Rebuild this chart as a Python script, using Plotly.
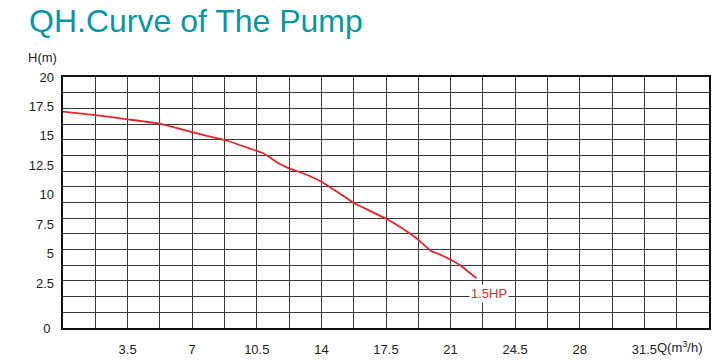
import plotly.graph_objects as go

# ---- data ----
flow_q = [0, 1.75, 3.5, 5.25, 7, 7.75, 8.75, 10.1, 10.85, 11.75, 12.25, 13, 14,
          14.85, 15.75, 16.6, 17.45, 18.25, 19.15, 19.95, 20.6, 21.5, 22.4]
head_h = [17.24, 16.97, 16.63, 16.28, 15.6, 15.32, 14.98, 14.32, 13.92, 13.07, 12.72,
          12.33, 11.66, 10.86, 9.98, 9.35, 8.74, 8.07, 7.15, 6.14, 5.74, 5.02, 3.96]
series_name = "1.5HP"

x_tick_vals = [3.5, 7, 10.5, 14, 17.5, 21, 24.5, 28, 31.5]
x_tick_text = ["3.5", "7", "10.5", "14", "17.5", "21", "24.5", "28", "31.5"]
y_tick_vals = [2.5, 5, 7.5, 10, 12.5, 15, 17.5, 20]
y_tick_text = ["2.5", "5", "7.5", "10", "12.5", "15", "17.5", "20"]

FONT = "Liberation Sans, Arial, sans-serif"
GRID = "#383838"
RED = "#e8232b"

fig = go.Figure()
fig.add_trace(go.Scatter(x=flow_q, y=head_h, mode="lines", name=series_name,
                         line=dict(color=RED, width=1.8, shape="spline", smoothing=0.4),
                         hoverinfo="skip"))
fig.add_trace(go.Scatter(x=[], y=[], yaxis="y2", showlegend=False))

fig.add_annotation(x=flow_q[-1], y=head_h[-1], text=series_name, showarrow=False,
                   xanchor="center", yanchor="middle", xshift=13, yshift=-15,
                   bgcolor="white", font=dict(color=RED, size=13, family=FONT))
fig.add_annotation(x=x_tick_vals[-1], y=0, yref="y", text="Q(m<sup>3</sup>/h)",
                   showarrow=False, xanchor="left", yanchor="top", xshift=11, yshift=-9,
                   font=dict(color="#222", size=13, family=FONT))
fig.add_annotation(x=0, y=20, xref="x", yref="y", text="H(m)", showarrow=False,
                   xanchor="right", yanchor="middle", xshift=-4, yshift=20,
                   font=dict(color="#222", size=13, family=FONT))

fig.update_layout(
    width=717, height=363,
    margin=dict(l=63, r=8, t=77, b=35, autoexpand=False),
    paper_bgcolor="white", plot_bgcolor="white",
    showlegend=False,
    title=dict(text="QH.Curve of The Pump", x=29 / 717, xanchor="left", xref="container",
               y=0.974, yanchor="top", yref="container", automargin=False,
               font=dict(family=FONT, size=32, color="#0797a3")),
    xaxis=dict(range=[0, 35], tickvals=x_tick_vals, ticktext=x_tick_text,
               showgrid=True, gridcolor=GRID, gridwidth=1, zeroline=False,
               minor=dict(dtick=1.75, tick0=0, showgrid=True, gridcolor=GRID, gridwidth=1),
               showline=True, linecolor="#111", linewidth=2, mirror=True,
               ticks="", ticklabelstandoff=8, automargin=False,
               tickfont=dict(family=FONT, size=13, color="#222")),
    yaxis=dict(range=[0, 20], tickvals=[0], ticktext=["0"],
               showgrid=True, gridcolor=GRID, gridwidth=1, zeroline=False,
               minor=dict(dtick=1.25, tick0=0, showgrid=True, gridcolor=GRID, gridwidth=1),
               showline=True, linecolor="#111", linewidth=2, mirror=True,
               ticks="", ticklabelstandoff=8, automargin=False,
               tickfont=dict(family=FONT, size=13, color="#222")),
    yaxis2=dict(overlaying="y", side="left", range=[20 - 251 / 11.77, 20],
                tickvals=y_tick_vals, ticktext=y_tick_text, showgrid=False,
                zeroline=False, showline=False, ticks="", ticklabelstandoff=8,
                automargin=False,
                tickfont=dict(family=FONT, size=13, color="#222")),
)

fig.write_html("out.html", post_script="document.body.style.margin='0';",
               config={"displayModeBar": False})
